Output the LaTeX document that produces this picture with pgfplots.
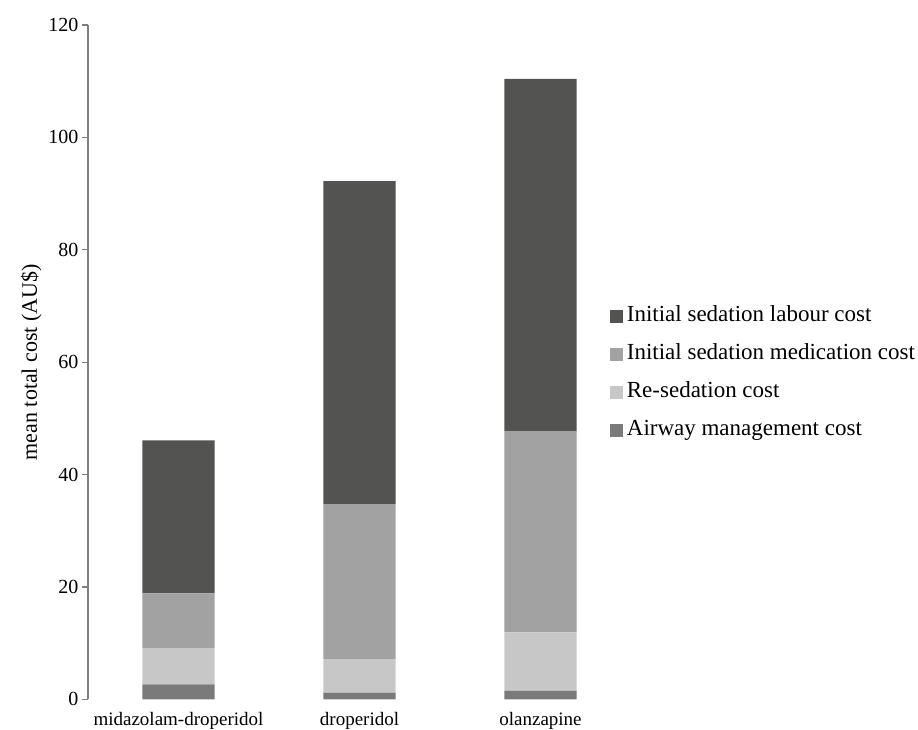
\documentclass[border=0pt]{standalone}
\usepackage{pgfplots}
\pgfplotsset{compat=1.18}
\usepackage{fontspec}
\setmainfont{Liberation Serif}
\definecolor{labour}{RGB}{83,83,81}
\definecolor{medic}{RGB}{162,162,162}
\definecolor{resed}{RGB}{198,199,198}
\definecolor{airway}{RGB}{122,122,122}
\definecolor{axgray}{RGB}{128,128,128}
\begin{document}
\begin{tikzpicture}
\path[use as bounding box] (0,0) rectangle (918pt,729pt);
\begin{axis}[
  at={(88pt,29.7pt)}, anchor=south west,
  scale only axis, width=543pt, height=674.3pt,
  ybar stacked, bar width=0.4,
  xmin=-0.5, xmax=2.5, ymin=0, ymax=120,
  xtick=data,
  xticklabels={midazolam-droperidol, droperidol, olanzapine},
  ytick={0,20,...,120},
  axis y line*=left, axis x line*=bottom,
  x axis line style={draw=none},
  y axis line style={draw=axgray, line width=1.2pt},
  xtick style={draw=none},
  ytick style={draw=axgray, line width=1.2pt},
  tick align=outside, major tick length=6pt,
  /pgf/number format/assume math mode=true,
  yticklabel style={font=\fontsize{20}{24}\selectfont},
  xticklabel style={font=\fontsize{19}{22}\selectfont, yshift=-3pt},
  ylabel={mean total cost (AU\$)},
  ylabel style={font=\fontsize{22}{26}\selectfont},
  reverse legend,
  legend cell align=left,
  legend image code/.code={\fill[#1] (0pt,-6.3pt) rectangle (12.7pt,6.3pt);},
  legend style={draw=none, fill=none, anchor=west, at={(0.9613,0.4833)},
    font=\fontsize{23}{27}\selectfont, inner sep=0pt, row sep=18pt,
    nodes={inner sep=0pt, text height=15pt, text depth=5pt},
    /tikz/column sep=4pt},
]
\addplot+[draw=none, fill=airway] coordinates {(0,2.67) (1,1.17) (2,1.48)};
\addplot+[draw=none, fill=resed] coordinates {(0,6.46) (1,6.0) (2,10.44)};
\addplot+[draw=none, fill=medic] coordinates {(0,9.73) (1,27.58) (2,35.8)};
\addplot+[draw=none, fill=labour] coordinates {(0,27.24) (1,57.45) (2,62.7)};
\legend{Airway management cost, Re-sedation cost, Initial sedation medication cost, Initial sedation labour cost}
\end{axis}
\end{tikzpicture}
\end{document}
